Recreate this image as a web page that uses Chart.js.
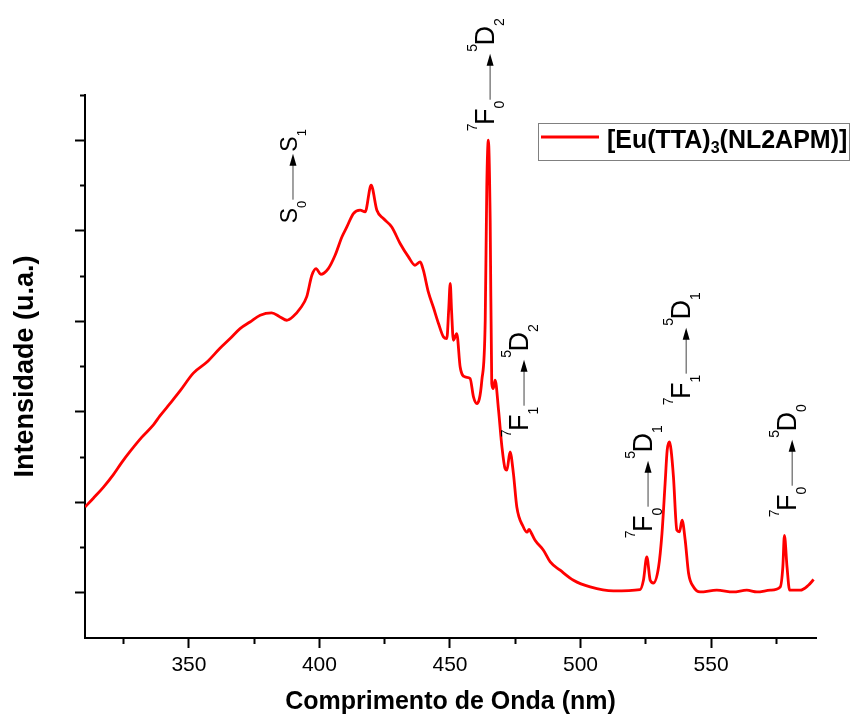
<!DOCTYPE html>
<html><head><meta charset="utf-8">
<script src="https://cdn.jsdelivr.net/npm/chart.js@4.4.1/dist/chart.umd.min.js"></script>
<style>html,body{margin:0;padding:0;background:#fff;}#wrap{width:850px;height:720px;}</style>
</head><body><div id="wrap"><canvas id="c" width="850" height="720"></canvas></div>
<script>
// ---- data ----
const wavelengthNm = [310.2,313.4,317.2,321.0,324.3,327.4,331.9,336.4,338.9,342.8,346.6,351.7,356.8,361.9,365.8,369.6,373.4,377.3,381.7,384.9,387.5,390.0,392.6,395.1,397.1,398.7,400.5,403.4,406.0,408.6,410.5,413.0,415.6,417.5,419.8,422.0,424.5,427.7,430.9,434.1,436.6,438.6,439.8,441.7,443.7,445.6,447.5,448.8,449.5,450.1,450.6,451.3,452.6,453.9,455.8,457.7,459.0,460.3,462.2,463.5,464.1,464.7,465.4,466.0,466.6,467.3,468.6,469.9,471.1,471.8,473.0,474.3,475.6,478.1,479.5,480.3,481.2,482.6,485.8,488.4,492.2,497.3,503.7,512.6,522.8,524.1,525.4,526.7,527.9,529.9,531.2,532.4,533.2,534.1,534.7,535.6,536.9,537.9,538.9,540.1,541.4,543.3,545.8,552.2,558.5,563.7,567.6,572.7,576.5,577.5,578.1,579.1,580.1,584.2,587.3,589.3];
const intensity = [0.947,1.045,1.165,1.303,1.441,1.559,1.717,1.855,1.954,2.092,2.230,2.427,2.546,2.701,2.809,2.919,2.992,3.066,3.092,3.048,3.011,3.055,3.140,3.269,3.508,3.582,3.519,3.582,3.729,3.931,4.042,4.190,4.227,4.208,4.503,4.227,4.135,4.042,3.859,3.711,3.619,3.655,3.564,3.324,3.149,2.975,2.827,2.809,3.122,3.417,3.122,2.790,2.864,2.495,2.385,2.367,2.164,2.091,2.348,3.011,4.484,5.000,4.116,2.312,2.256,2.348,2.017,1.611,1.372,1.354,1.556,1.317,0.948,0.727,0.669,0.700,0.658,0.580,0.470,0.340,0.249,0.138,0.064,0.020,0.035,0.138,0.396,0.138,0.108,0.285,0.654,1.207,1.575,1.666,1.575,1.280,0.691,0.672,0.801,0.580,0.212,0.064,0.009,0.028,0.009,0.028,0.009,0.028,0.064,0.285,0.635,0.285,0.028,0.028,0.083,0.146];
const seriesLabel = '[Eu(TTA)3(NL2APM)]';
const xMajorTicks = [350,400,450,500,550];
const xMinorTicks = [325,375,425,475,525,575];
const yMajorTicks = [0,1,2,3,4,5];
const yMinorTicks = [0.5,1.5,2.5,3.5,4.5,5.5];
const xRange = [310.2, 590.2];
const yRange = [-0.5, 5.5];
const xTitle = 'Comprimento de Onda (nm)';
const yTitle = 'Intensidade (u.a.)';
// transition labels: lower state -> upper state ('^' superscript, '_' subscript)
const transitionLower = ['S_0','^7F_0','^7F_1','^7F_0','^7F_1','^7F_0'];
const transitionUpper = ['S_1','^5D_2','^5D_2','^5D_1','^5D_1','^5D_0'];
const transitionAtNm = [391.4,466.9,479.9,527.4,542.0,582.6];
const transitionAtY = [4.083,5.099,1.718,0.602,2.072,0.834];

// ---- drawing ----
const FAM = '"Liberation Sans", Arial, Helvetica, sans-serif';
const xTickList = [...xMajorTicks, ...xMinorTicks].sort((a,b)=>a-b);
const yTickList = [...yMajorTicks, ...yMinorTicks].sort((a,b)=>a-b);
const isMinorX = c => c.tick && xMinorTicks.includes(c.tick.value);
const isMinorY = c => c.tick && yMinorTicks.includes(c.tick.value);

function parseRich(s){
  const out=[];
  for(let i=0;i<s.length;i++){
    const ch=s[i];
    if(ch==='^'){out.push({t:s[++i],k:'sup'});}
    else if(ch==='_'){out.push({t:s[++i],k:'sub'});}
    else out.push({t:ch,k:'n'});
  }
  return out;
}
function drawRich(ctx, segs, u, big, small){
  const r = big/27;
  for(const s of segs){
    ctx.font = (s.k==='n'?big:small)+'px '+FAM;
    const dv = s.k==='sup' ? -17*r : (s.k==='sub' ? 10*r : 0);
    ctx.fillText(s.t, u, dv);
    u += ctx.measureText(s.t).width - (s.k==='sup' ? 1.5 : 0);
  }
  return u;
}

const annotPlugin = {
  id:'annot',
  afterDraw(chart){
    const ctx = chart.ctx, xs = chart.scales.x, ys = chart.scales.y, ca = chart.chartArea;
    ctx.save();
    ctx.fillStyle = '#000';
    ctx.textBaseline = 'alphabetic';
    ctx.textAlign = 'left';
    for(let i=0;i<transitionLower.length;i++){
      const px = xs.getPixelForValue(transitionAtNm[i]);
      const py = ys.getPixelForValue(transitionAtY[i]);
      const big = i===0 ? 23 : 27, small = i===0 ? 13 : 14;
      ctx.save();
      ctx.translate(px, py);
      ctx.rotate(-Math.PI/2);
      ctx.fillStyle = '#000';
      let u = drawRich(ctx, parseRich(transitionLower[i]), 0, big, small);
      u += 1;
      const len = 46, head = 12, v = -4;
      ctx.strokeStyle = '#444'; ctx.lineWidth = 1;
      ctx.beginPath(); ctx.moveTo(u, v); ctx.lineTo(u+len-head+1, v); ctx.stroke();
      ctx.beginPath(); ctx.moveTo(u+len, v); ctx.lineTo(u+len-head, v-3.5); ctx.lineTo(u+len-head, v+3.5); ctx.closePath();
      ctx.fillStyle = '#000'; ctx.fill();
      u += len + 2;
      drawRich(ctx, parseRich(transitionUpper[i]), u, big, small);
      ctx.restore();
    }
    // legend
    const bx = ca.right - 277.5, by = ca.top + 28.5, bw = 311, bh = 37;
    ctx.strokeStyle = '#808080'; ctx.lineWidth = 1;
    ctx.strokeRect(bx, by, bw, bh);
    ctx.strokeStyle = '#ff0000'; ctx.lineWidth = 3;
    ctx.beginPath(); ctx.moveTo(bx+2.5, by+13.5); ctx.lineTo(bx+60.5, by+13.5); ctx.stroke();
    const m = seriesLabel.match(/^(.*?\))(\d)(.*)$/);
    let tx = bx + 68.5; const tb = by + 24;
    ctx.fillStyle = '#000';
    ctx.font = 'bold 25px '+FAM; ctx.fillText(m[1], tx, tb); tx += ctx.measureText(m[1]).width;
    ctx.font = 'bold 16px '+FAM; ctx.fillText(m[2], tx, tb+5); tx += ctx.measureText(m[2]).width;
    ctx.font = 'bold 25px '+FAM; ctx.fillText(m[3], tx, tb);
    ctx.restore();
  }
};

new Chart(document.getElementById('c'), {
  type:'line',
  data:{ datasets:[{
    label: seriesLabel,
    data: wavelengthNm.map((x,i)=>({x, y:intensity[i]})),
    borderColor:'#ff0000', borderWidth:2.8, pointRadius:0, fill:false,
    cubicInterpolationMode:'monotone'
  }]},
  options:{
    responsive:false, animation:false, devicePixelRatio:1,
    layout:{padding:{left:0,right:34,top:95,bottom:0}},
    plugins:{legend:{display:false}, tooltip:{enabled:false}},
    scales:{
      x:{
        type:'linear', min:xRange[0], max:xRange[1],
        afterBuildTicks: s => { s.ticks = xTickList.map(v=>({value:v})); },
        afterFit: s => { s.height = 82; },
        ticks:{autoSkip:false, maxRotation:0, color:'#000', padding:5, font:{family:FAM, size:21},
          callback: v => xMajorTicks.includes(v) ? String(v) : ''},
        grid:{display:true, drawOnChartArea:false, drawTicks:true, tickLength:10, tickColor:'#000', tickWidth:2,
          tickBorderDash: c => isMinorX(c) ? [5,100] : []},
        border:{display:true, color:'#000', width:2},
        title:{display:true, text:xTitle, color:'#000', font:{family:FAM, size:25, weight:'bold'}, padding:{top:1,bottom:3}}
      },
      y:{
        type:'linear', min:yRange[0], max:yRange[1],
        afterBuildTicks: s => { s.ticks = yTickList.map(v=>({value:v})); },
        afterFit: s => { s.width = 85; },
        ticks:{display:false},
        grid:{display:true, drawOnChartArea:false, drawTicks:true, tickLength:10, tickColor:'#000', tickWidth:2,
          tickBorderDash: c => isMinorY(c) ? [5,5] : [],
          tickBorderDashOffset: c => isMinorY(c) ? 5 : 0},
        border:{display:true, color:'#000', width:2},
        title:{display:true, text:yTitle, color:'#000', font:{family:FAM, size:27, weight:'bold'}, padding:{top:9,bottom:34}}
      }
    }
  },
  plugins:[annotPlugin]
});
</script></body></html>
